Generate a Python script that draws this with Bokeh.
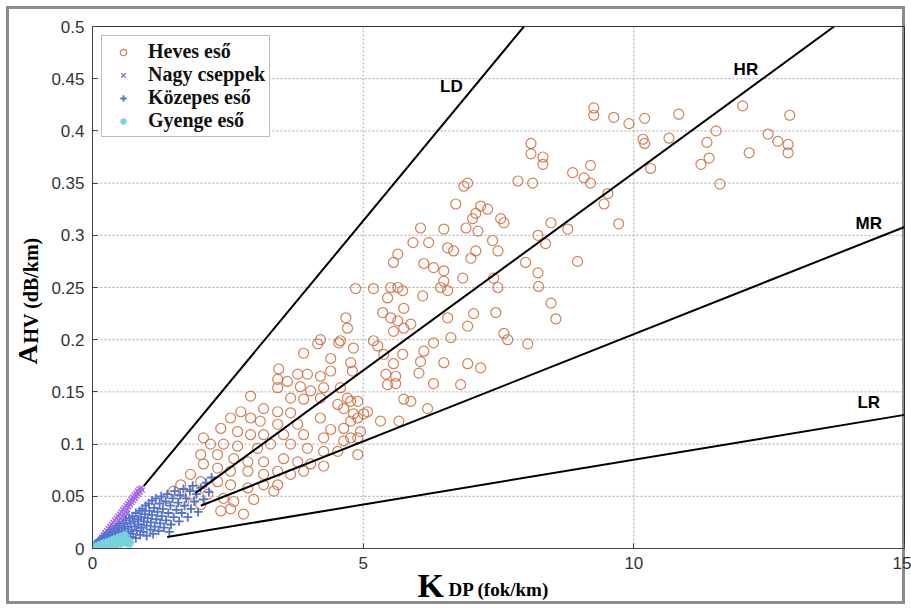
from bokeh.plotting import figure
from bokeh.models import Range1d, FixedTicker, NumeralTickFormatter, Label, LinearAxis
from bokeh.embed import file_html
from bokeh.resources import INLINE

# ---------------- data ----------------
heves_x = [9.26, 9.26, 9.63, 9.91, 10.2, 10.83, 12.01, 12.88, 10.17, 10.2, 10.65, 11.52, 11.35,
           12.48, 12.66, 12.85, 12.85, 12.13, 11.39, 11.24, 10.31, 11.59, 8.87, 9.2, 9.08, 9.2,
           9.45, 9.52, 9.72, 8.78, 8.96, 8.1, 8.1, 8.32, 8.32, 7.86, 8.13, 6.86, 6.93,
           6.71, 7.17, 7.08, 7.02, 7.3, 7.54, 7.6, 8.47,
           6.06, 6.49, 6.9, 7.12, 8.23, 8.37, 5.92, 6.21, 6.56, 6.67, 7.39, 7.49, 7.08, 6.99,
           5.64, 5.56, 6.12, 6.3, 6.49, 8.0, 8.23, 6.49, 6.43, 6.56, 6.84, 7.41, 7.49, 8.24,
           8.47, 8.56, 5.64, 5.73, 5.51, 5.19, 4.86, 6.1, 5.45, 5.75, 5.36, 5.51, 5.64, 5.75,
           5.88, 5.56, 6.56, 7.04, 6.93, 7.45, 4.68, 7.6, 7.67, 8.04, 6.62, 6.3, 6.12, 5.19,
           5.27, 4.82, 4.58, 5.38, 5.73, 6.06, 6.49, 6.93, 7.17, 4.77, 5.56, 5.42, 5.6, 6.03,
           5.45, 5.6, 6.3, 6.8, 5.75, 5.88, 6.19, 5.32, 5.66, 5.01, 4.95, 4.77, 4.71, 4.64,
           4.9, 4.82, 5.08, 4.71,
           4.21, 4.16, 3.9, 4.55, 4.4, 3.44, 3.42, 3.79, 3.97, 4.21, 3.6, 4.4, 4.8, 3.84,
           4.03, 4.27, 4.58, 3.42, 2.92, 3.66, 3.9, 4.21, 4.53, 4.77, 3.16, 3.42, 3.66, 2.74,
           2.55, 2.92, 3.1, 3.42, 3.79, 4.21, 4.4, 4.64, 4.77, 4.9, 2.37, 2.68, 2.92, 3.16,
           3.53, 3.9, 4.27, 4.64, 4.9, 2.05, 2.18, 2.42, 2.68, 3.05, 3.29, 3.66, 3.97, 4.27,
           4.53, 4.9, 2.0, 2.31, 2.61, 2.87, 3.16, 3.53, 3.79, 4.03, 4.27, 2.05, 2.31, 2.55,
           2.87, 3.16, 3.42, 3.66, 3.9, 1.81, 2.0, 2.31, 2.55, 2.87, 3.16, 3.42, 1.63, 1.5,
           1.81, 2.13, 2.42, 2.61, 2.98, 3.35, 2.55, 2.37, 2.0, 1.68, 2.79, 1.39]
heves_y = [0.422, 0.415, 0.413, 0.407, 0.412, 0.416, 0.424, 0.415, 0.392, 0.388, 0.393, 0.400, 0.389,
           0.397, 0.390, 0.387, 0.379, 0.379, 0.374, 0.368, 0.364, 0.349, 0.360, 0.367, 0.355, 0.350,
           0.330, 0.340, 0.311, 0.306, 0.275, 0.388, 0.378, 0.375, 0.368, 0.352, 0.350, 0.347, 0.350,
           0.330, 0.328, 0.321, 0.316, 0.325, 0.316, 0.312, 0.312,
           0.307, 0.306, 0.307, 0.304, 0.300, 0.292, 0.293, 0.293, 0.288, 0.285, 0.295, 0.285, 0.285, 0.278,
           0.282, 0.274, 0.273, 0.269, 0.266, 0.274, 0.264, 0.256, 0.250, 0.247, 0.259, 0.259, 0.250, 0.251,
           0.235, 0.220, 0.250, 0.247, 0.250, 0.249, 0.249, 0.242, 0.240, 0.230, 0.226, 0.221, 0.218, 0.211,
           0.215, 0.208, 0.221, 0.225, 0.213, 0.226, 0.221, 0.206, 0.200, 0.196, 0.202, 0.197, 0.189, 0.199,
           0.194, 0.192, 0.199, 0.186, 0.186, 0.179, 0.178, 0.177, 0.173, 0.178, 0.177, 0.167, 0.165, 0.168,
           0.157, 0.158, 0.158, 0.157, 0.143, 0.141, 0.134, 0.122, 0.122, 0.129, 0.112, 0.106, 0.144, 0.134,
           0.141, 0.129, 0.131, 0.211,
           0.200, 0.196, 0.187, 0.197, 0.182, 0.172, 0.162, 0.167, 0.167, 0.165, 0.160, 0.170, 0.170, 0.155,
           0.151, 0.154, 0.154, 0.154, 0.146, 0.144, 0.143, 0.144, 0.138, 0.141, 0.134, 0.131, 0.130, 0.131,
           0.125, 0.125, 0.122, 0.119, 0.119, 0.125, 0.114, 0.115, 0.122, 0.125, 0.115, 0.112, 0.109, 0.109,
           0.109, 0.109, 0.106, 0.103, 0.106, 0.106, 0.100, 0.100, 0.098, 0.096, 0.100, 0.100, 0.096, 0.093,
           0.093, 0.090, 0.090, 0.090, 0.086, 0.083, 0.083, 0.086, 0.083, 0.081, 0.079, 0.081, 0.077, 0.074,
           0.074, 0.071, 0.074, 0.071, 0.074, 0.071, 0.064, 0.064, 0.061, 0.058, 0.061, 0.061, 0.061, 0.055,
           0.052, 0.052, 0.048, 0.045, 0.047, 0.055, 0.038, 0.036, 0.042, 0.045, 0.033, 0.048]

nagy_x = [0.02, 0.04, 0.05, 0.07, 0.08, 0.1, 0.11, 0.13, 0.14, 0.16, 0.17, 0.19, 0.2, 0.22, 0.23,
          0.25, 0.26, 0.28, 0.29, 0.31, 0.32, 0.34, 0.35, 0.37, 0.38, 0.4, 0.41, 0.43, 0.44, 0.46,
          0.47, 0.49, 0.5, 0.52, 0.53, 0.55, 0.56, 0.58, 0.59, 0.61, 0.62, 0.64, 0.65, 0.67, 0.68,
          0.7, 0.71, 0.73, 0.74, 0.76, 0.77, 0.79, 0.8, 0.82, 0.83, 0.85, 0.86, 0.88, 0.9, 0.92,
          0.3, 0.45, 0.5, 0.6, 0.35, 0.55, 0.65, 0.25]
nagy_y = [0.001, 0.003, 0.002, 0.004, 0.006, 0.005, 0.007, 0.006, 0.009, 0.008, 0.011, 0.010, 0.013,
          0.011, 0.015, 0.013, 0.017, 0.014, 0.019, 0.016, 0.021, 0.018, 0.023, 0.020, 0.025, 0.021,
          0.027, 0.023, 0.029, 0.025, 0.031, 0.027, 0.033, 0.029, 0.035, 0.031, 0.037, 0.033, 0.039,
          0.035, 0.041, 0.037, 0.043, 0.040, 0.045, 0.042, 0.047, 0.044, 0.049, 0.046, 0.051, 0.048,
          0.053, 0.050, 0.055, 0.052, 0.057, 0.054, 0.058, 0.056,
          0.012, 0.020, 0.024, 0.030, 0.015, 0.027, 0.034, 0.010]

kozepes_x = [0.03, 0.05, 0.06, 0.08, 0.1, 0.1, 0.12, 0.14, 0.15, 0.17, 0.18, 0.2, 0.2, 0.22, 0.24,
             0.25, 0.27, 0.28, 0.3, 0.3, 0.32, 0.33, 0.35, 0.36, 0.38, 0.4, 0.4, 0.42, 0.44, 0.45,
             0.46, 0.48, 0.5, 0.5, 0.52, 0.54, 0.55, 0.57, 0.58, 0.6, 0.6, 0.62, 0.63, 0.65, 0.66,
             0.68, 0.7, 0.7, 0.72, 0.74, 0.75, 0.77, 0.78, 0.8, 0.8, 0.82, 0.84, 0.85, 0.87, 0.88,
             0.9, 0.9, 0.92, 0.94, 0.95, 0.97, 0.98, 1.0, 1.0, 1.02, 1.04, 1.05, 1.07, 1.08, 1.1,
             1.1, 1.12, 1.14, 1.15, 1.17, 1.18, 1.2, 1.22, 1.24, 1.25, 1.27, 1.28, 1.3, 1.32, 1.35,
             1.36, 1.38, 1.4, 1.42, 1.44, 1.45, 1.48, 1.5, 1.52, 1.55, 1.58, 1.6, 1.62, 1.65, 1.68,
             1.7, 1.73, 1.76, 1.8, 1.82, 1.85, 1.88, 1.92, 1.95, 2.0, 2.05, 2.1, 2.15, 2.2]
kozepes_y = [0.002, 0.004, 0.001, 0.003, 0.006, 0.002, 0.004, 0.008, 0.003, 0.006, 0.010, 0.004, 0.008,
             0.012, 0.006, 0.003, 0.009, 0.014, 0.005, 0.011, 0.008, 0.016, 0.004, 0.012, 0.009, 0.018,
             0.006, 0.013, 0.010, 0.020, 0.005, 0.015, 0.011, 0.022, 0.007, 0.017, 0.013, 0.024, 0.009,
             0.019, 0.014, 0.027, 0.008, 0.021, 0.016, 0.029, 0.011, 0.024, 0.018, 0.031, 0.014, 0.026,
             0.021, 0.034, 0.010, 0.017, 0.028, 0.023, 0.036, 0.013, 0.030, 0.020, 0.038, 0.016, 0.026,
             0.033, 0.041, 0.012, 0.022, 0.029, 0.043, 0.036, 0.018, 0.025, 0.046, 0.032, 0.014, 0.039,
             0.021, 0.048, 0.028, 0.035, 0.017, 0.043, 0.024, 0.050, 0.031, 0.038, 0.020, 0.045, 0.027,
             0.052, 0.034, 0.016, 0.041, 0.023, 0.048, 0.030, 0.055, 0.037, 0.044, 0.026, 0.051, 0.034,
             0.057, 0.041, 0.048, 0.030, 0.055, 0.038, 0.060, 0.045, 0.052, 0.035, 0.058, 0.047, 0.063,
             0.054, 0.068]

gyenge_x = [0.01, 0.03, 0.05, 0.06, 0.08, 0.1, 0.12, 0.13, 0.15, 0.17, 0.18, 0.2, 0.22, 0.23, 0.25,
            0.27, 0.28, 0.3, 0.32, 0.33, 0.35, 0.37, 0.38, 0.4, 0.42, 0.43, 0.45, 0.47, 0.48, 0.5,
            0.52, 0.53, 0.55, 0.57, 0.58, 0.6, 0.62, 0.64, 0.66, 0.68, 0.7]
gyenge_y = [0.000, 0.001, 0.000, 0.002, 0.001, 0.003, 0.000, 0.002, 0.004, 0.001, 0.003, 0.005, 0.002,
            0.004, 0.006, 0.001, 0.003, 0.007, 0.005, 0.002, 0.008, 0.004, 0.006, 0.009, 0.003, 0.007,
            0.010, 0.005, 0.008, 0.011, 0.004, 0.009, 0.012, 0.006, 0.010, 0.013, 0.005, 0.009, 0.007,
            0.004, 0.006]

# reference lines (start / end points) and their labels
line_names = ["LD", "HR", "MR", "LR"]
line_x0 = [0.95, 1.9, 2.0, 1.38]
line_y0 = [0.060, 0.053, 0.041, 0.011]
line_x1 = [7.97, 13.7, 15.0, 15.0]
line_y1 = [0.500, 0.500, 0.308, 0.128]
label_x = [6.63, 12.07, 14.34, 14.34]
label_y = [0.443, 0.459, 0.311, 0.140]

x_ticks = [0, 5, 10, 15]
y_ticks = [0, 0.05, 0.1, 0.15, 0.2, 0.25, 0.3, 0.35, 0.4, 0.45, 0.5]
x_min, x_max = 0, 15
y_min, y_max = 0, 0.5

# ---------------- figure ----------------
p = figure(width=911, height=610, output_backend="svg", toolbar_location=None,
           x_range=Range1d(x_min, x_max), y_range=Range1d(y_min, y_max),
           x_axis_type=None, y_axis_type=None,
           min_border_left=92, min_border_right=7, min_border_top=26, min_border_bottom=62,
           background_fill_alpha=0, border_fill_alpha=0)
p.styles = {"background-color": "white",
            "box-shadow": "inset 0 0 0 6px white, inset 0 0 0 9px #8c8c8c"}
p.outline_line_color = "#333333"
p.outline_line_width = 1

xax = LinearAxis(ticker=FixedTicker(ticks=x_ticks), formatter=NumeralTickFormatter(format="0"))
yax = LinearAxis(ticker=FixedTicker(ticks=y_ticks), formatter=NumeralTickFormatter(format="0.[00]"))
for ax in (xax, yax):
    ax.major_tick_in = 5
    ax.major_tick_out = 0
    ax.minor_tick_line_color = None
    ax.axis_line_color = "#444444"
    ax.major_tick_line_color = "#444444"
    ax.major_label_text_font = "Liberation Sans"
    ax.major_label_text_font_size = "17px"
    ax.major_label_text_color = "#333333"
    ax.major_label_standoff = 8
p.add_layout(xax, "below")
p.add_layout(yax, "left")

# dotted grid lines at the tick positions
inner_x = [t for t in x_ticks if x_min < t < x_max]
inner_y = [t for t in y_ticks if y_min < t < y_max]
p.segment(inner_x, [y_min] * len(inner_x), inner_x, [y_max] * len(inner_x),
          line_color="#a8a8a8", line_width=1, line_dash="2 2")
p.segment([x_min] * len(inner_y), inner_y, [x_max] * len(inner_y), inner_y,
          line_color="#a8a8a8", line_width=1, line_dash="2 2")

p.scatter(heves_x, heves_y, marker="circle", size=10, fill_color=None,
          line_color="#cc6a3c", line_width=1.2, line_alpha=0.85, legend_label="Heves eső")
p.scatter(nagy_x, nagy_y, marker="x", size=7, line_color="#a56ae6", line_width=1.5,
          legend_label="Nagy cseppek")
p.scatter(kozepes_x, kozepes_y, marker="cross", size=9, line_color="#5473cc", line_width=1.8,
          legend_label="Közepes eső")
p.scatter(gyenge_x, gyenge_y, marker="asterisk", size=8, line_color="#78d2dc", line_width=1.8,
          legend_label="Gyenge eső")

p.segment(line_x0, line_y0, line_x1, line_y1, line_color="black", line_width=2)

for name, lx, ly in zip(line_names, label_x, label_y):
    p.add_layout(Label(x=lx, y=ly, text=name, text_font="Liberation Sans", text_font_style="bold",
                       text_font_size="17px", text_color="black", text_align="center",
                       text_baseline="middle"))

# axis titles: labels kept in the side panels (not clipped), placed in canvas pixels
serif = "Liberation Serif"
def title_label(text, x, y, size, angle=0.0):
    return Label(x=x, y=y, x_units="canvas", y_units="canvas", text=text, text_font=serif,
                 text_font_style="bold", text_font_size="%dpx" % size, text_color="black",
                 angle=angle, text_align="left", text_baseline="middle")

p.add_layout(title_label("K", 417, 597 - 0.34 * 34, 34), "left")
p.add_layout(title_label("DP (fok/km)", 448, 595 - 0.34 * 19, 19), "below")
p.add_layout(title_label("A", 37 - 0.34 * 28, 364, 28, 1.5708), "above")
p.add_layout(title_label("HV (dB/km)", 37 - 0.34 * 20, 343, 20, 1.5708), "left")

lg = p.legend[0]
lg.location = "top_left"
lg.margin = 9
lg.padding = 4
lg.spacing = 0
lg.label_height = 22
lg.glyph_height = 16
lg.glyph_width = 34
lg.label_standoff = 8
lg.label_text_font = serif
lg.label_text_font_style = "bold"
lg.label_text_font_size = "20px"
lg.label_text_color = "#111111"
lg.border_line_color = "#7a7a7a"
lg.border_line_width = 1.5
lg.background_fill_color = "white"
lg.background_fill_alpha = 1

open("out.html", "w").write(file_html(p, INLINE))
